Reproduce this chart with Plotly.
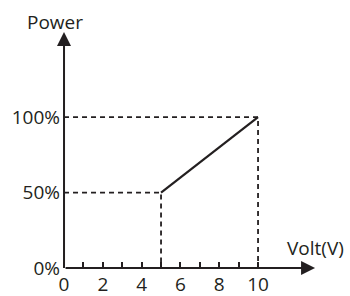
import plotly.graph_objects as go

# Data
volt = [5, 10]
power = [50, 100]
x_tick_vals = [0, 2, 4, 6, 8, 10]
x_tick_text = ["0", "2", "4", "6", "8", "10"]
x_minor_vals = [1, 3, 5, 7, 9]
y_tick_vals = [0, 50, 100]
y_tick_text = ["0%", "50%", "100%"]
x_label = "Volt(V)"
y_label = "Power"

INK = "#231f20"
FONT = "Open Sans"
FS = 19

fig = go.Figure()

# dashed guide lines
for vx, vy in zip(volt, power):
    fig.add_trace(go.Scatter(x=[0, vx, vx], y=[vy, vy, 0], mode="lines",
                             line=dict(color=INK, width=1.8, dash="5px,4px"),
                             hoverinfo="skip", showlegend=False))

# main line
fig.add_trace(go.Scatter(x=volt, y=power, mode="lines",
                         line=dict(color=INK, width=2.2),
                         showlegend=False))

x_tip = 12.94
y_tip = 156.3

fig.add_annotation(x=x_tip, y=0, ax=0, ay=0, xref="x", yref="y", axref="x", ayref="y",
                   showarrow=True, arrowhead=2, arrowsize=1.4, arrowwidth=2, arrowcolor=INK, text="")
fig.add_annotation(x=0, y=y_tip, ax=0, ay=0, xref="x", yref="y", axref="x", ayref="y",
                   showarrow=True, arrowhead=2, arrowsize=1.4, arrowwidth=2, arrowcolor=INK, text="")

fig.add_annotation(x=-0.46, y=162.9, xref="x", yref="y", text=y_label, showarrow=False,
                   font=dict(family=FONT, size=FS, color=INK))
fig.add_annotation(x=12.95, y=13.2, xref="x", yref="y", text=x_label, showarrow=False,
                   font=dict(family=FONT, size=FS, color=INK))

fig.update_layout(
    width=350, height=296,
    margin=dict(l=0, r=0, t=0, b=0, autoexpand=False),
    paper_bgcolor="white", plot_bgcolor="white",
    font=dict(family=FONT, size=FS, color=INK),
    xaxis=dict(range=[-3.3, 14.74], showgrid=False, zeroline=False, showline=False,
               tickvals=x_tick_vals, ticktext=x_tick_text, ticks="inside", ticklen=6,
               tickwidth=1.8, tickcolor=INK, ticklabelstandoff=3, automargin=False,
               minor=dict(tickvals=x_minor_vals, ticks="inside", ticklen=6, tickwidth=1.8, tickcolor=INK),
               anchor="free", position=28/296, fixedrange=True),
    yaxis=dict(range=[-18.5, 177.5], showgrid=False, zeroline=False, showline=False,
               tickvals=y_tick_vals, ticktext=y_tick_text, ticks="", ticklabelstandoff=4,
               automargin=False,
               anchor="free", position=64/350, fixedrange=True),
)

fig.write_html("out.html", config={"displayModeBar": False},
               post_script="document.body.style.margin='0';document.body.style.padding='0';")
